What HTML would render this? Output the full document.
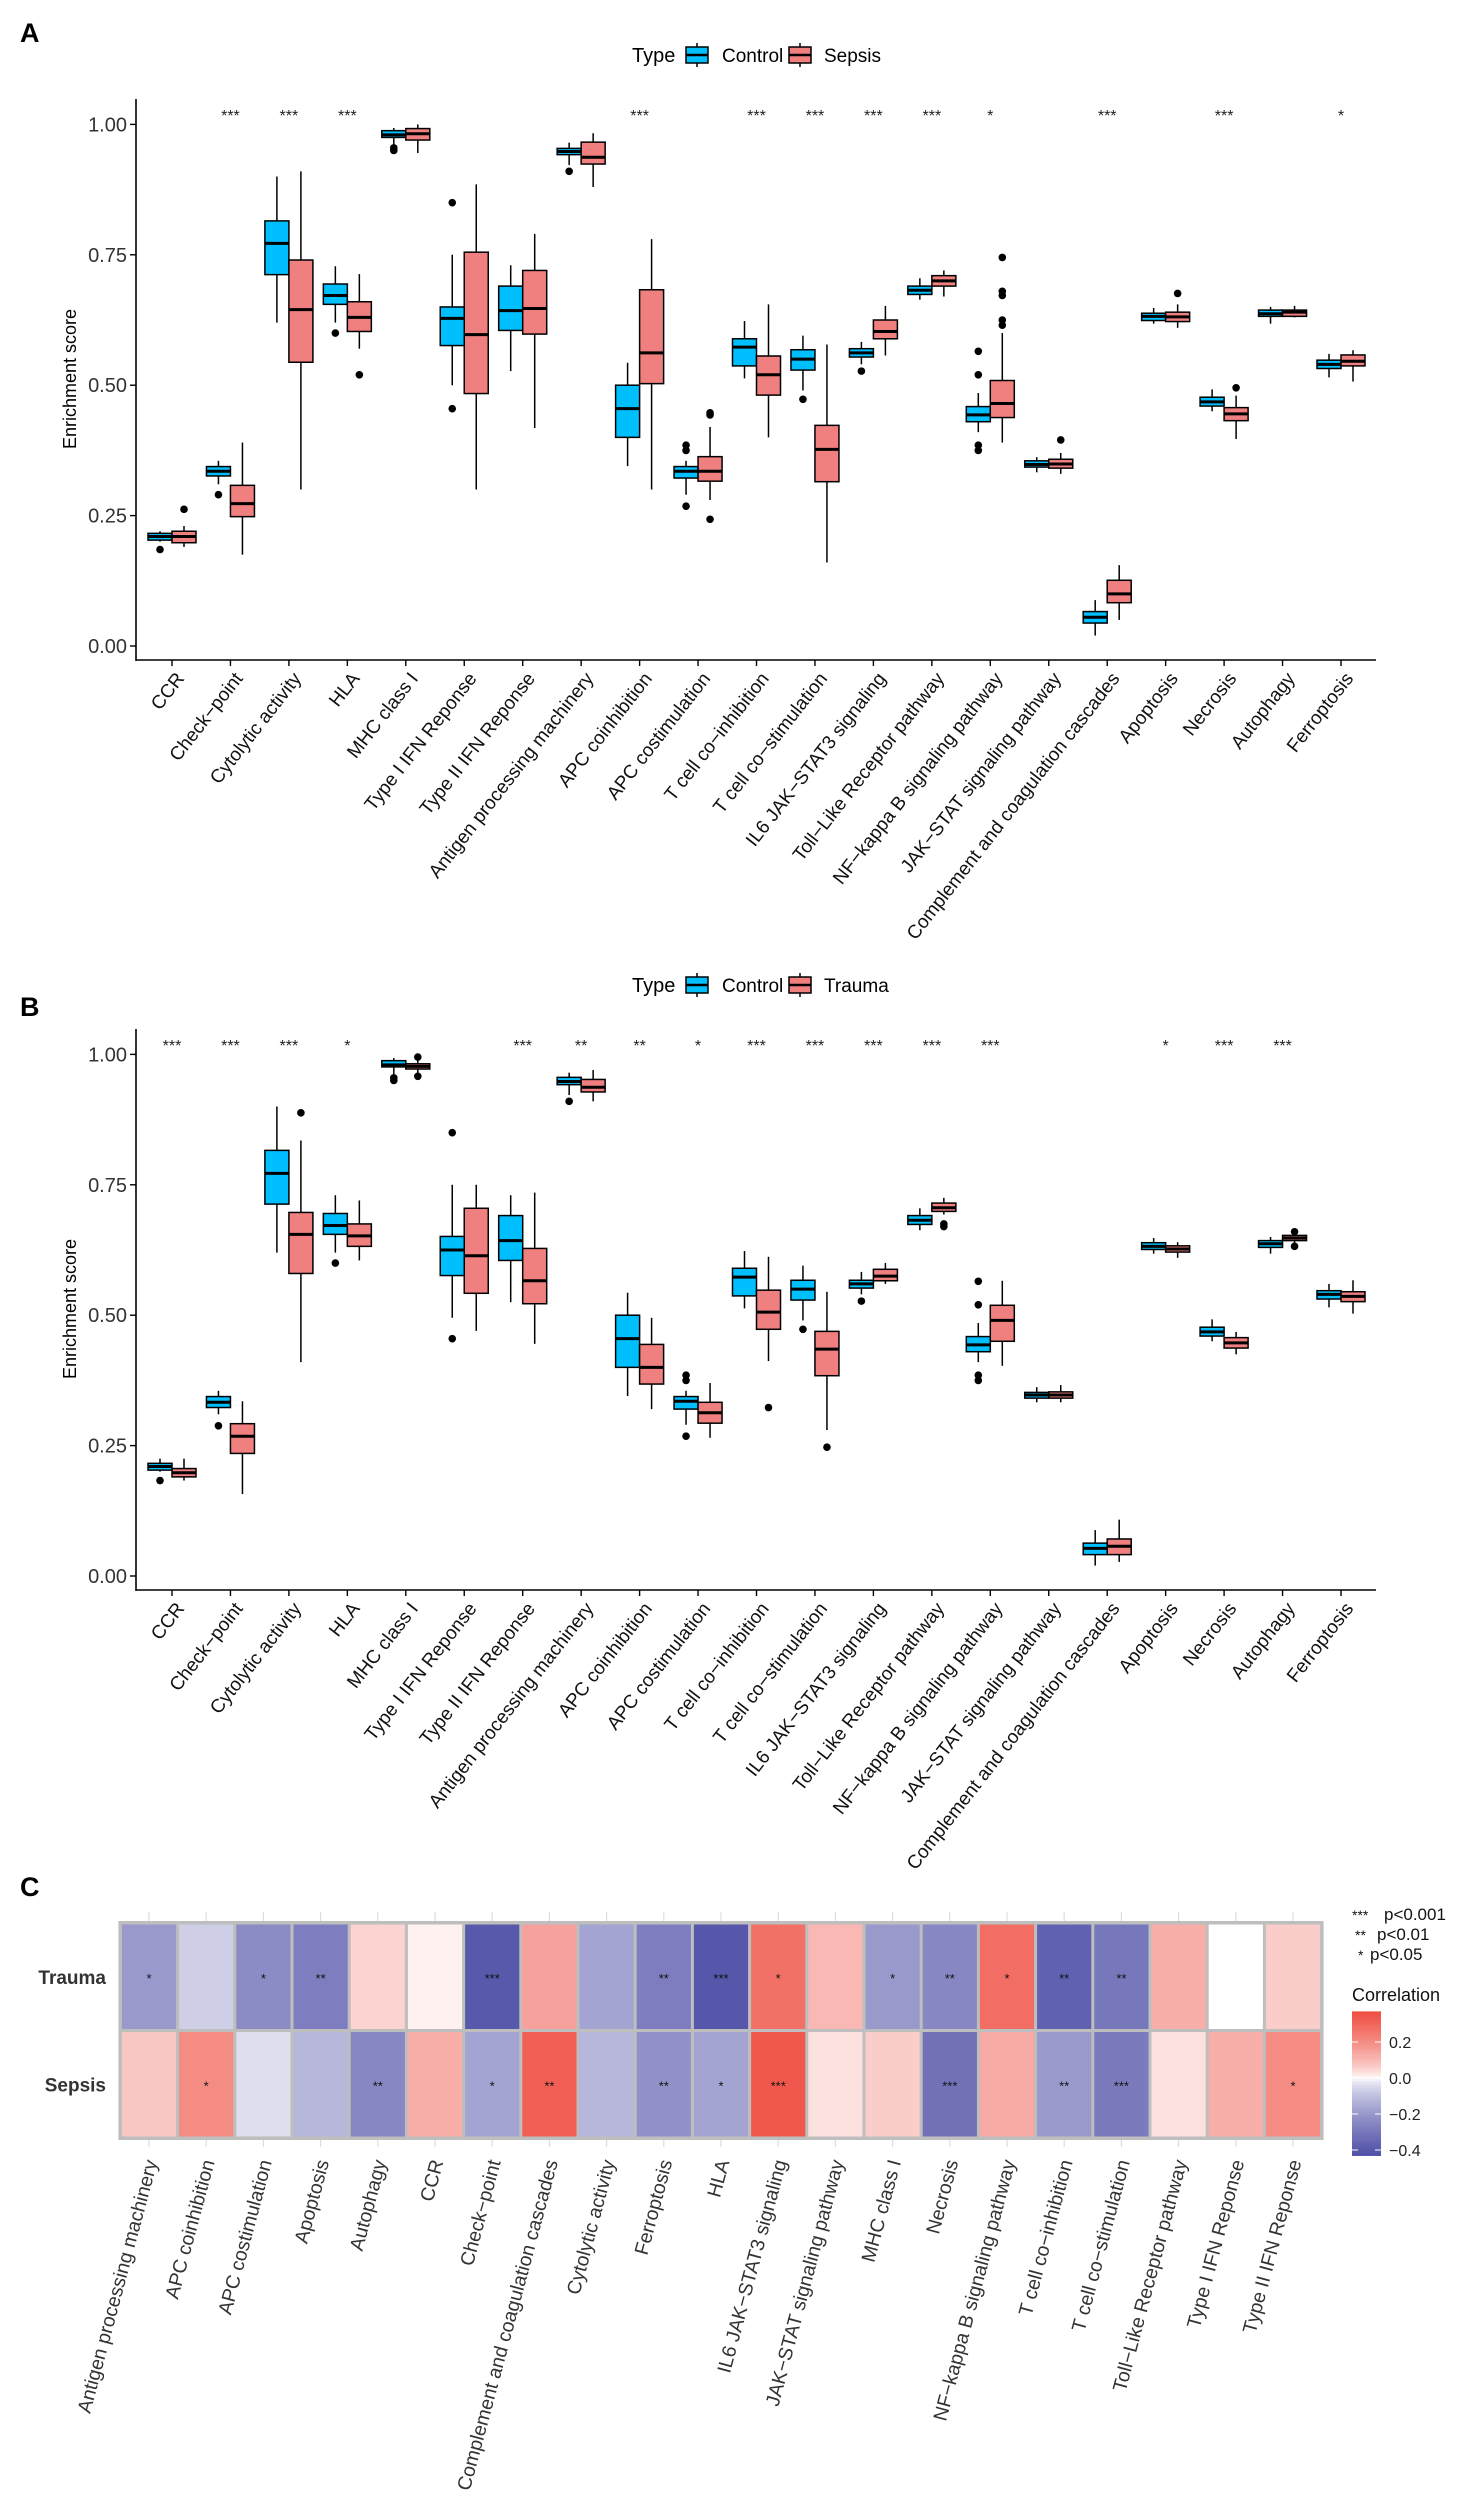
<!DOCTYPE html>
<html><head><meta charset="utf-8"><style>
html,body{margin:0;padding:0;background:#fff}
svg{display:block;font-family:"Liberation Sans",Arial,sans-serif}
</style></head><body>
<svg id="fig" width="1457" height="2500" viewBox="0 0 1457 2500" xmlns="http://www.w3.org/2000/svg">
<text x="20" y="42" font-size="27" font-weight="bold">A</text>
<text x="20" y="1016" font-size="27" font-weight="bold">B</text>
<text x="20" y="1896" font-size="27" font-weight="bold">C</text>
<g id="panelA"></g>
<g id="panelB"></g>
<g id="panelC"></g>
</svg>
<script>
const categories = ["CCR","Check\u2212point","Cytolytic activity","HLA","MHC class I","Type I IFN Reponse","Type II IFN Reponse","Antigen processing machinery","APC coinhibition","APC costimulation","T cell co\u2212inhibition","T cell co\u2212stimulation","IL6 JAK\u2212STAT3 signaling","Toll\u2212Like Receptor pathway","NF\u2212kappa B signaling pathway","JAK\u2212STAT signaling pathway","Complement and coagulation cascades","Apoptosis","Necrosis","Autophagy","Ferroptosis"];
const yTicks = [0, 0.25, 0.5, 0.75, 1.0];
const yTickLabels = ["0.00","0.25","0.50","0.75","1.00"];
// [lowWhisker, q1, median, q3, highWhisker]
const aControl = [[0.2,0.203,0.21,0.216,0.22],[0.31,0.326,0.335,0.344,0.355],[0.62,0.712,0.772,0.815,0.9],[0.62,0.655,0.672,0.694,0.728],[0.96,0.975,0.98,0.988,0.993],[0.5,0.576,0.628,0.65,0.75],[0.527,0.605,0.643,0.69,0.73],[0.922,0.942,0.948,0.954,0.965],[0.345,0.4,0.455,0.5,0.543],[0.29,0.322,0.335,0.344,0.355],[0.513,0.537,0.573,0.589,0.623],[0.49,0.529,0.55,0.568,0.595],[0.54,0.554,0.562,0.57,0.583],[0.664,0.674,0.682,0.69,0.705],[0.41,0.43,0.443,0.459,0.485],[0.333,0.343,0.348,0.355,0.362],[0.02,0.044,0.055,0.066,0.088],[0.618,0.624,0.632,0.638,0.648],[0.45,0.46,0.468,0.477,0.492],[0.618,0.632,0.637,0.644,0.65],[0.515,0.532,0.54,0.548,0.56]];
const aControlOut = [[0.185],[0.29],[],[0.6],[0.955,0.95],[0.85,0.455],[],[0.91],[],[0.385,0.375,0.268],[],[0.473],[0.527],[],[0.565,0.52,0.385,0.375],[],[],[],[],[],[]];
const aSepsis = [[0.19,0.198,0.21,0.22,0.23],[0.175,0.248,0.273,0.308,0.39],[0.3,0.544,0.645,0.74,0.91],[0.57,0.603,0.63,0.66,0.713],[0.945,0.97,0.982,0.992,1.0],[0.3,0.484,0.597,0.755,0.885],[0.418,0.598,0.647,0.72,0.79],[0.88,0.924,0.937,0.966,0.983],[0.3,0.503,0.562,0.683,0.78],[0.28,0.316,0.335,0.363,0.42],[0.4,0.481,0.52,0.556,0.655],[0.16,0.315,0.377,0.423,0.578],[0.557,0.589,0.603,0.625,0.652],[0.67,0.69,0.7,0.71,0.72],[0.39,0.438,0.465,0.509,0.6],[0.33,0.341,0.349,0.358,0.37],[0.05,0.083,0.1,0.126,0.155],[0.61,0.622,0.631,0.64,0.655],[0.397,0.432,0.445,0.457,0.48],[0.63,0.632,0.64,0.644,0.652],[0.507,0.537,0.546,0.558,0.567]];
const aSepsisOut = [[0.262],[],[],[0.52],[],[],[],[],[],[0.447,0.443,0.243],[],[],[],[],[0.745,0.68,0.672,0.625,0.615],[0.395],[],[0.676],[0.495],[],[]];
const aStars = ["","***","***","***","","","","","***","","***","***","***","***","*","","***","","***","","*"];
const bControl = [[0.2,0.203,0.21,0.216,0.225],[0.31,0.323,0.333,0.344,0.355],[0.62,0.713,0.772,0.816,0.9],[0.62,0.655,0.672,0.695,0.73],[0.96,0.976,0.98,0.988,0.993],[0.495,0.576,0.625,0.651,0.75],[0.525,0.605,0.643,0.691,0.73],[0.922,0.942,0.948,0.956,0.965],[0.345,0.4,0.455,0.5,0.543],[0.29,0.32,0.335,0.344,0.355],[0.513,0.537,0.573,0.59,0.623],[0.49,0.529,0.55,0.567,0.595],[0.54,0.552,0.56,0.567,0.583],[0.663,0.674,0.682,0.691,0.705],[0.41,0.43,0.443,0.459,0.485],[0.333,0.341,0.347,0.352,0.362],[0.02,0.041,0.053,0.063,0.088],[0.618,0.626,0.632,0.639,0.648],[0.45,0.46,0.468,0.477,0.492],[0.618,0.63,0.637,0.643,0.65],[0.515,0.531,0.54,0.547,0.56]];
const bControlOut = [[0.183],[0.288],[],[0.6],[0.955,0.95],[0.85,0.455],[],[0.91],[],[0.385,0.375,0.268],[],[0.473],[0.527],[],[0.565,0.52,0.385,0.375],[],[],[],[],[],[]];
const bTrauma = [[0.183,0.19,0.198,0.206,0.225],[0.157,0.235,0.268,0.292,0.335],[0.41,0.58,0.655,0.697,0.835],[0.605,0.632,0.652,0.675,0.72],[0.96,0.972,0.977,0.982,0.99],[0.47,0.542,0.614,0.705,0.75],[0.445,0.522,0.566,0.628,0.735],[0.91,0.928,0.937,0.952,0.97],[0.32,0.368,0.4,0.444,0.495],[0.265,0.293,0.313,0.333,0.37],[0.412,0.473,0.506,0.548,0.612],[0.28,0.384,0.435,0.469,0.545],[0.56,0.566,0.575,0.588,0.6],[0.693,0.699,0.706,0.715,0.725],[0.403,0.45,0.49,0.519,0.566],[0.333,0.341,0.347,0.353,0.366],[0.027,0.041,0.057,0.071,0.108],[0.61,0.621,0.627,0.633,0.64],[0.425,0.437,0.447,0.457,0.468],[0.638,0.643,0.648,0.653,0.66],[0.503,0.526,0.536,0.545,0.567]];
const bTraumaOut = [[],[],[0.888],[],[0.995,0.958],[],[],[],[],[],[0.323],[0.247],[],[0.675,0.67],[],[],[],[],[],[0.66,0.632],[]];
const bStars = ["***","***","***","*","","","***","**","**","*","***","***","***","***","***","","","*","***","***",""];

const heatCols = ["Antigen processing machinery","APC coinhibition","APC costimulation","Apoptosis","Autophagy","CCR","Check\u2212point","Complement and coagulation cascades","Cytolytic activity","Ferroptosis","HLA","IL6 JAK\u2212STAT3 signaling","JAK\u2212STAT signaling pathway","MHC class I","Necrosis","NF\u2212kappa B signaling pathway","T cell co\u2212inhibition","T cell co\u2212stimulation","Toll\u2212Like Receptor pathway","Type I IFN Reponse","Type II IFN Reponse"];
const heatRows = ["Trauma","Sepsis"];
const traumaR = [-0.2,-0.07,-0.24,-0.28,0.05,0.01,-0.4,0.15,-0.17,-0.28,-0.41,0.27,0.1,-0.2,-0.25,0.28,-0.37,-0.3,0.12,0.0,0.06];
const sepsisR = [0.07,0.2,-0.04,-0.12,-0.25,0.12,-0.17,0.32,-0.12,-0.22,-0.17,0.34,0.03,0.06,-0.32,0.13,-0.2,-0.29,0.03,0.12,0.2];
const traumaSig = ["*","","*","**","","","***","","","**","***","*","","*","**","*","**","**","","",""];
const sepsisSig = ["","*","","","**","","*","**","","**","*","***","","","***","","**","***","","","*"];
const corrTicks = [0.2, 0, -0.2, -0.4];
const corrTickLabels = ["0.2","0.0","\u22120.2","\u22120.4"];

const NS = "http://www.w3.org/2000/svg";
function mk(tag, attrs, parent, text){
  const e = document.createElementNS(NS, tag);
  for (const k in attrs) e.setAttribute(k, attrs[k]);
  if (text !== undefined) e.textContent = text;
  parent.appendChild(e); return e;
}
const CTRL = "#00bfff", SEPS = "#f08080";
const xCat = i => 172 + i * 58.45;

function drawPanel(g, off, ctrl, ctrlOut, grp, grpOut, stars, grpName){
  const yS = v => off + 646 - v * 521.6;
  const t = mk("text", {x:632, y:off+62, "font-size":20, fill:"#000"}, g, "Type");
  
  
  [[686, CTRL, "Control", 722],[789, SEPS, grpName, 824]].forEach((L, k) => {
    const lg = mk("g", {}, g);
    
    
    mk("line", {x1:L[0]+11, x2:L[0]+11, y1:off+43, y2:off+67, stroke:"#000","stroke-width":1.5}, lg);
    mk("rect", {x:L[0], y:off+47, width:22, height:16, fill:L[1], stroke:"#000","stroke-width":1.5}, lg);
    mk("line", {x1:L[0], x2:L[0]+22, y1:off+55, y2:off+55, stroke:"#000","stroke-width":2.5}, lg);
    mk("text", {x:L[3], y:off+62, "font-size":19, fill:"#000"}, lg, L[2]);
  });
  const ax = mk("g", {}, g);
  
  
  mk("line", {x1:136, x2:136, y1:off+99, y2:off+661, stroke:"#000","stroke-width":1.6}, ax);
  yTicks.forEach((v, i) => {
    mk("line", {x1:130, x2:136, y1:yS(v), y2:yS(v), stroke:"#000","stroke-width":1.4}, ax);
    const tl = mk("text", {x:127, y:yS(v)+7, "font-size":20, "text-anchor":"end", fill:"#333"}, ax, yTickLabels[i]);
    
    
  });
  const yt = mk("text", {x:0, y:0, "font-size":18, "text-anchor":"middle", transform:`translate(76,${off+379}) rotate(-90)`}, g, "Enrichment score");
  
  
  const xa = mk("g", {}, g);
  
  
  mk("line", {x1:136, x2:1376, y1:off+660, y2:off+660, stroke:"#000","stroke-width":1.6}, xa);
  categories.forEach((c, i) => {
    const cx = xCat(i);
    mk("line", {x1:cx, x2:cx, y1:off+660, y2:off+666, stroke:"#000","stroke-width":1.4}, xa);
    const yy = off + 670;
    const tl = mk("text", {x:cx+2, y:yy, dy:"0.75em", "font-size":19, "text-anchor":"end", fill:"#111", transform:`rotate(-52 ${cx+2} ${yy})`}, xa, c);
    
    
  });
  function box(s, outs, cx, fill, name){
    const bg = mk("g", {}, g);
    
    
    mk("line", {x1:cx, x2:cx, y1:yS(s[4]), y2:yS(s[0]), stroke:"#000","stroke-width":1.5}, bg);
    mk("rect", {x:cx-12, y:yS(s[3]), width:24, height:Math.max(yS(s[1])-yS(s[3]),1), fill:fill, stroke:"#000","stroke-width":1.5}, bg);
    mk("line", {x1:cx-12, x2:cx+12, y1:yS(s[2]), y2:yS(s[2]), stroke:"#000","stroke-width":3}, bg);
    outs.forEach(o => mk("circle", {cx:cx, cy:yS(o), r:3.8, fill:"#000"}, bg));
  }
  categories.forEach((c, i) => {
    box(ctrl[i], ctrlOut[i], xCat(i)-12, CTRL, 'box-control-' + i);
    box(grp[i], grpOut[i], xCat(i)+12, SEPS, 'box-' + grpName.toLowerCase() + '-' + i);
    if (stars[i]) {
      const st = mk("text", {x:xCat(i), y:off+121, "font-size":16, "text-anchor":"middle", fill:"#222"}, g, stars[i]);
      
      
    }
  });
}
drawPanel(document.getElementById("panelA"), 0, aControl, aControlOut, aSepsis, aSepsisOut, aStars, "Sepsis");
drawPanel(document.getElementById("panelB"), 930, bControl, bControlOut, bTrauma, bTraumaOut, bStars, "Trauma");

const gC = document.getElementById("panelC");
const LOW=[80,80,168], HIGH=[239,78,66], LMIN=-0.43, LMAX=0.37;
function corrColor(v){
  let t, c;
  if (v < 0){ t = Math.min(1, v / LMIN); c = LOW; } else { t = Math.min(1, v / LMAX); c = HIGH; }
  t = Math.pow(t, 0.7);
  const m = c.map(ch => Math.round(255 + (ch - 255) * t));
  return `rgb(${m[0]},${m[1]},${m[2]})`;
}
const cellW = 57.2, hx0 = 120.4, hy0 = 1923, rowH = 107.5;
const colX = i => hx0 + cellW * (i + 0.5);
mk("rect", {x:hx0-2, y:hy0-2, width:cellW*21+4, height:rowH*2+4, fill:"#bebebe"}, gC);
heatCols.forEach((c, i) => {
  mk("line", {x1:colX(i), x2:colX(i), y1:hy0-11, y2:hy0-2, stroke:"#ddd","stroke-width":1.2}, gC);
  mk("line", {x1:colX(i), x2:colX(i), y1:hy0+rowH*2+2, y2:hy0+rowH*2+9, stroke:"#ddd","stroke-width":1.2}, gC);
  [traumaR, sepsisR].forEach((arr, r) => {
    const cell = mk("rect", {x:hx0+cellW*i+1.5, y:hy0+rowH*r+1.5, width:cellW-3, height:rowH-3, fill:corrColor(arr[i])}, gC);
    
    
    const sig = r === 0 ? traumaSig[i] : sepsisSig[i];
    if (sig) mk("text", {x:colX(i), y:hy0+rowH*r+rowH/2+6, "font-size":13, "text-anchor":"middle", fill:"#111"}, gC, sig);
  });
  const yy = 2160;
  const tl = mk("text", {x:colX(i)+2, y:yy, dy:"0.35em", "font-size":19.5, "text-anchor":"end", fill:"#333", transform:`rotate(-75 ${colX(i)+2} ${yy})`}, gC, c);
  
  
});
heatRows.forEach((r, k) => {
  const rl = mk("text", {x:106, y:hy0+rowH*k+rowH/2+7, "font-size":19, "font-weight":"bold", "text-anchor":"end", fill:"#333"}, gC, r);
  
  
});
const sl = mk("g", {}, gC);


[["***","p<0.001",1914],["**","p<0.01",1934],["*","p<0.05",1954]].forEach((L, k) => {
  mk("text", {x:1352+k*3, y:L[2]+6, "font-size":14, fill:"#111"}, sl, L[0]);
  mk("text", {x:1384-k*7, y:L[2]+6, "font-size":17, fill:"#111"}, sl, L[1]);
});
const cb = mk("g", {}, gC);


mk("text", {x:1352, y:2001, "font-size":18, fill:"#111"}, cb, "Correlation");
const cbTop = 2012, cbBot = 2155, cy = v => 2078 - v * 180;
for (let k = 0; k < 60; k++){
  const v0 = LMAX - (LMAX - LMIN) * k / 60;
  const y0 = cy(v0);
  mk("rect", {x:1352, y:y0, width:29, height:(cbBot-cbTop)/60+0.6, fill:corrColor(v0 - (LMAX-LMIN)/120)}, cb);
}
corrTicks.forEach((v, i) => {
  mk("line", {x1:1352, x2:1358, y1:cy(v), y2:cy(v), stroke:"#fff","stroke-width":1}, cb);
  mk("line", {x1:1375, x2:1381, y1:cy(v), y2:cy(v), stroke:"#fff","stroke-width":1}, cb);
  mk("text", {x:1389, y:cy(v)+6, "font-size":16, fill:"#222"}, cb, corrTickLabels[i]);
});
</script>
</body></html>
